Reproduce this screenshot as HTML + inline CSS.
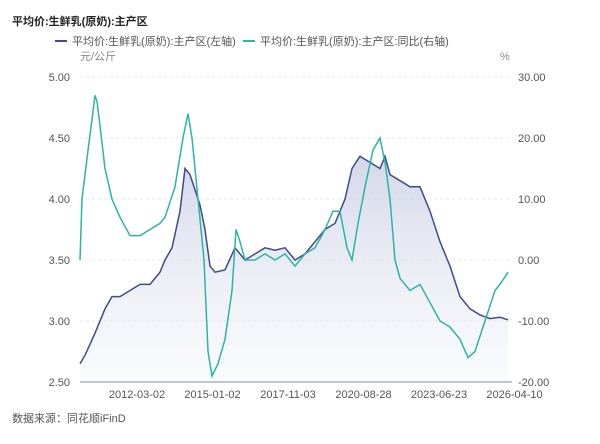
<!DOCTYPE html><html><head><meta charset="utf-8"><style>
body{margin:0;background:#fff;font-family:"Liberation Sans","Noto Sans CJK SC",sans-serif;}
</style></head><body>
<svg id="s" width="600" height="439" xmlns="http://www.w3.org/2000/svg" font-family="Liberation Sans, Noto Sans CJK SC, sans-serif">
<defs><linearGradient id="g" x1="0" y1="0" x2="0" y2="1"><stop offset="0" stop-color="#c9cde3" stop-opacity="0.8"/><stop offset="1" stop-color="#eef0f7" stop-opacity="0.3"/></linearGradient></defs>
<text x="12" y="25" font-size="11" font-weight="bold" fill="#222">平均价:生鲜乳(原奶):主产区</text>
<line x1="55" y1="41" x2="67" y2="41" stroke="#3f4b8c" stroke-width="2"/>
<text x="72" y="45" font-size="11" fill="#555">平均价:生鲜乳(原奶):主产区(左轴)</text>
<line x1="243" y1="41" x2="255" y2="41" stroke="#2ab5a5" stroke-width="2"/>
<text x="260" y="45" font-size="11" fill="#555">平均价:生鲜乳(原奶):主产区:同比(右轴)</text>
<text x="80" y="60" font-size="11" fill="#888">元/公斤</text>
<text x="500" y="60" font-size="11" fill="#888">%</text>
<g id="grid" stroke="#e8e8ef" stroke-dasharray="3,3"></g>
<g id="lab" font-size="11" fill="#555"></g>
<path id="fill" fill="url(#g)"/>
<path id="p1" fill="none" stroke="#3f4b8c" stroke-width="1.5"/>
<path id="p2" fill="none" stroke="#2ab5a5" stroke-width="1.5"/>
<line x1="80" y1="382" x2="512" y2="382" stroke="#aab0c8" stroke-width="1.5"/>
<text x="12" y="422" font-size="11" fill="#555">数据来源：同花顺iFinD</text>
</svg>
<script>
var ns="http://www.w3.org/2000/svg",grid=document.getElementById('grid'),lab=document.getElementById('lab');
function el(t,a,p,txt){var e=document.createElementNS(ns,t);for(var k in a)e.setAttribute(k,a[k]);if(txt)e.textContent=txt;p.appendChild(e);}
var L=["5.00","4.50","4.00","3.50","3.00","2.50"],R=["30.00","20.00","10.00","0.00","-10.00","-20.00"];
for(var i=0;i<6;i++){var y=77+61*i;if(i<5)el('line',{x1:80,x2:512,y1:y,y2:y},grid);
el('text',{x:70,y:y+4,'text-anchor':'end'},lab,L[i]);el('text',{x:518,y:y+4},lab,R[i]);}
var D=["2012-03-02","2015-01-02","2017-11-03","2020-08-28","2023-06-23","2026-04-10"];
for(var i=0;i<6;i++)el('text',{x:137+75.5*i,y:398,'text-anchor':'middle'},lab,D[i]);
var a=[80,2.65,85,2.72,95,2.9,105,3.1,112,3.2,120,3.2,130,3.25,140,3.3,150,3.3,160,3.4,165,3.5,172,3.6,180,3.9,185,4.25,190,4.2,200,3.95,205,3.75,210,3.45,215,3.4,225,3.42,235,3.6,245,3.5,255,3.55,265,3.6,275,3.58,285,3.6,295,3.5,305,3.55,315,3.65,325,3.75,335,3.8,345,4.0,352,4.25,360,4.35,370,4.3,380,4.25,385,4.35,390,4.2,400,4.15,410,4.1,420,4.1,430,3.9,440,3.65,450,3.45,460,3.2,470,3.1,480,3.05,490,3.02,500,3.03,508,3.01];
var b=[80,0,82,10,88,18,92,23,95,27,97,26,100,22,105,15,112,10,120,7,130,4,140,4,150,5,160,6,165,7,175,12,183,20,188,24,192,20,198,10,204,0,208,-15,212,-19,218,-17,225,-13,232,-5,236,5,240,3,245,0,255,0,265,1,275,0,285,1,295,-1,305,1,315,2,325,5,333,8,340,8,347,2,352,0,358,6,365,12,373,18,380,20,385,16,390,10,395,0,400,-3,410,-5,420,-4,430,-7,440,-10,450,-11,460,-13,468,-16,475,-15,485,-10,495,-5,500,-4,508,-2];
var d1="",d2="";
for(var i=0;i<a.length;i+=2)d1+=(i?"L":"M")+a[i]+","+(77+(5-a[i+1])*122).toFixed(1);
for(var i=0;i<b.length;i+=2)d2+=(i?"L":"M")+b[i]+","+(77+(30-b[i+1])*6.1).toFixed(1);
document.getElementById('p1').setAttribute('d',d1);
document.getElementById('fill').setAttribute('d',d1+"L508,382L80,382Z");
document.getElementById('p2').setAttribute('d',d2);
</script>
</body></html>
